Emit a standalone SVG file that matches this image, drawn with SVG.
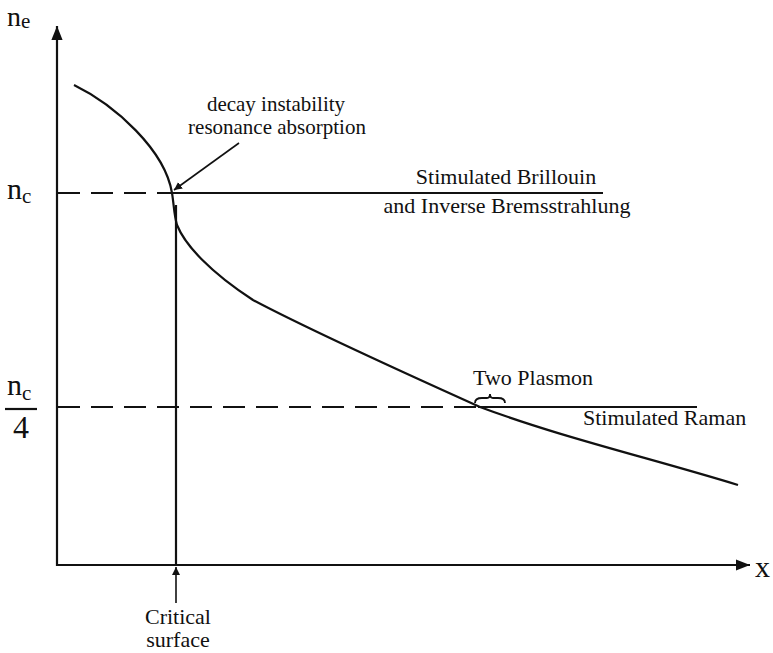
<svg xmlns="http://www.w3.org/2000/svg" width="773" height="653" viewBox="0 0 773 653">
<style>
text{font-family:"Liberation Serif","Times New Roman",serif;fill:#111}
.lbl{font-size:22px}
.sm{font-size:21px}
.sym{font-size:30px}
.sub{font-size:21px}
.ln{stroke:#111;stroke-width:2.2;fill:none}
.dash{stroke:#111;stroke-width:2.2;fill:none;stroke-dasharray:22,11}
</style>
<defs>
<marker id="ah" viewBox="0 0 10 10" refX="10" refY="5" markerWidth="8" markerHeight="9" orient="auto" markerUnits="userSpaceOnUse"><path d="M0,0 L10,5 L0,10 z" fill="#111"/></marker>
<marker id="big" viewBox="0 0 10 10" refX="10" refY="5" markerWidth="14" markerHeight="14" orient="auto" markerUnits="userSpaceOnUse"><path d="M0,1 L10,5 L0,9 z" fill="#111"/></marker>
</defs>
<g id="axes">
<line class="ln" x1="57" y1="566" x2="57" y2="26" marker-end="url(#big)"/>
<line class="ln" x1="56" y1="565" x2="750" y2="565" marker-end="url(#big)"/>
</g>
<g id="axis-labels">
<text x="7" y="26" font-size="28">n<tspan class="sub" dy="2">e</tspan></text>
<text x="7" y="199" class="sym">n<tspan class="sub" dy="4">c</tspan></text>
<text x="7" y="395" class="sym">n<tspan class="sub" dy="5">c</tspan></text>
<line class="ln" x1="5" y1="409" x2="37" y2="409"/>
<text x="13" y="438" font-size="32">4</text>
<text x="755" y="577" class="sym">x</text>
</g>
<g id="connectors">
<line class="dash" x1="58" y1="193" x2="176" y2="193"/>
<line class="ln" x1="176" y1="193" x2="603" y2="193"/>
<line class="dash" x1="58" y1="407" x2="480" y2="407"/>
<line class="ln" x1="478" y1="407" x2="697" y2="407"/>
<line class="ln" x1="176" y1="205" x2="176" y2="565"/>
<line stroke="#111" stroke-width="1.6" x1="176" y1="603" x2="176" y2="567" marker-end="url(#ah)"/>
<line stroke="#111" stroke-width="1.6" x1="239" y1="143" x2="174" y2="190" marker-end="url(#ah)"/>
<path class="ln" d="M74,85 C115,105 165,150 172,193 C174,205 174,215 177,225 C185,245 210,272 253,300 C300,325 420,380 480,407 C560,437 650,458 738,485"/>
<path stroke="#111" stroke-width="1.8" fill="none" d="M475,403 Q475,398 482,398 L487,398 Q490,398 490,394 Q490,398 493,398 L498,398 Q505,398 505,403"/>
</g>
<g id="labels">
<text class="lbl sm" x="276" y="111" text-anchor="middle">decay instability</text>
<text class="lbl sm" x="277" y="134" text-anchor="middle">resonance absorption</text>
<text class="lbl" x="506" y="184" text-anchor="middle">Stimulated Brillouin</text>
<text class="lbl" x="507" y="213" text-anchor="middle">and Inverse Bremsstrahlung</text>
<text class="lbl" x="473" y="385">Two Plasmon</text>
<text class="lbl" x="583" y="425">Stimulated Raman</text>
<text class="lbl" x="178" y="624" text-anchor="middle">Critical</text>
<text class="lbl" x="178" y="647" text-anchor="middle">surface</text>
</g>
</svg>
